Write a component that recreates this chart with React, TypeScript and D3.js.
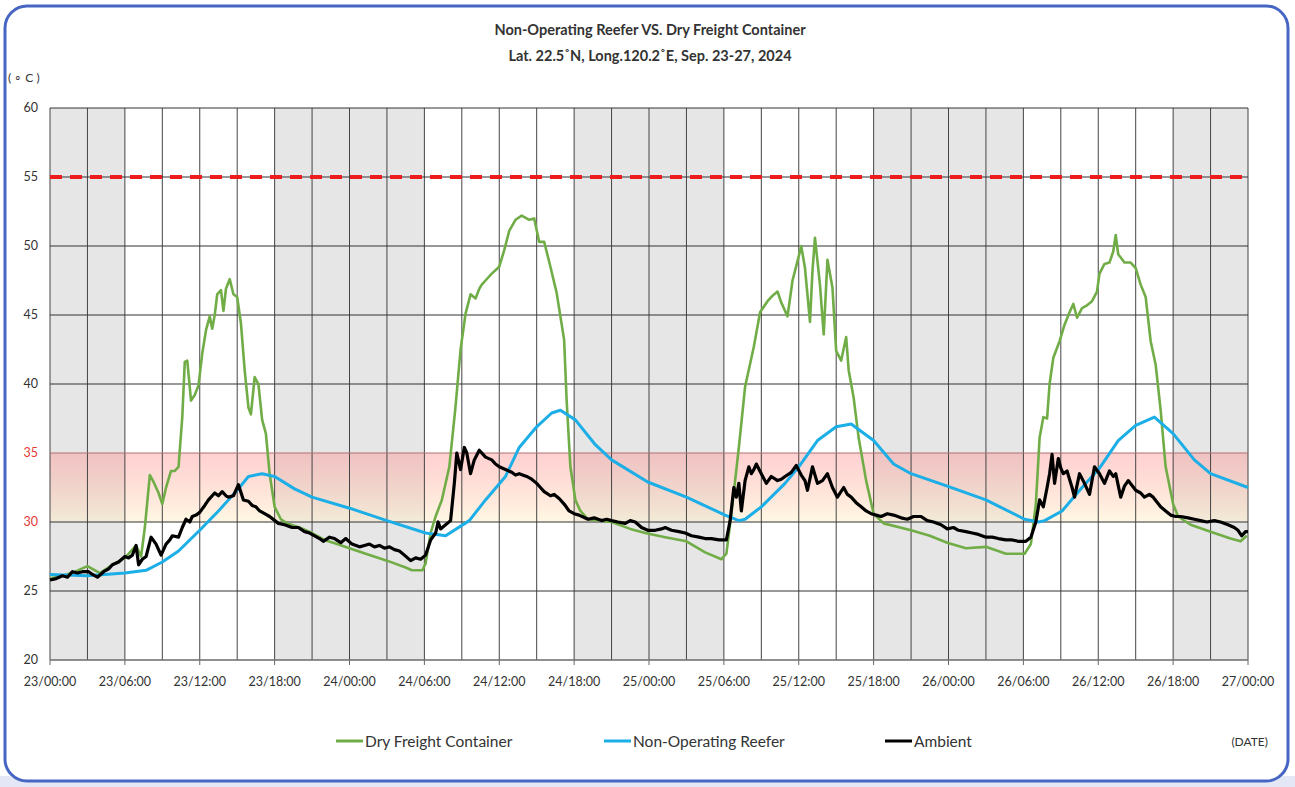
import React from "react";
import * as d3 from "d3";

// hours since 23/00:00, temperature in °C
const dryFreight: [number, number][] = [
  [0, 25.9], [1, 26.1], [2, 26.4], [3, 26.8], [4, 26.3], [5, 26.9], [6, 27.4], [6.9, 28.3], [7.3, 27.5],
  [7.6, 29.6], [8, 33.4], [8.3, 32.9], [8.7, 32.1], [9, 31.3], [9.3, 32.5], [9.7, 33.7], [10, 33.7],
  [10.3, 34], [10.6, 37.6], [10.8, 41.6], [11, 41.7], [11.3, 38.8], [11.6, 39.2], [11.9, 39.9],
  [12.2, 42.2], [12.5, 43.9], [12.8, 44.9], [13, 44], [13.2, 45], [13.4, 46.5], [13.7, 46.8],
  [13.9, 45.3], [14.1, 46.9], [14.4, 47.6], [14.7, 46.5], [15, 46.3], [15.3, 44.4], [15.6, 41],
  [15.9, 38.3], [16.1, 37.8], [16.4, 40.5], [16.7, 40], [17, 37.4], [17.3, 36.4], [17.6, 33.5],
  [18, 31.1], [18.5, 30.2], [19, 29.9], [20, 29.6], [21, 29.2], [22, 28.7], [23, 28.4], [24, 28.1],
  [25.3, 27.7], [27, 27.2], [28.5, 26.7], [29, 26.5], [29.85, 26.5], [30.1, 27], [30.5, 29.2],
  [30.9, 30.4], [31.4, 31.6], [32, 34], [32.5, 38.4], [32.9, 42.5], [33.3, 45.1], [33.7, 46.5],
  [34.1, 46.2], [34.4, 46.9], [34.6, 47.2], [34.9, 47.5], [35.4, 48], [36, 48.5], [36.4, 49.7],
  [36.8, 51.1], [37.3, 51.9], [37.8, 52.2], [38.4, 51.9], [38.8, 52], [39.2, 50.3], [39.6, 50.3],
  [40.1, 48.5], [40.6, 46.6], [41.2, 43.2], [41.4, 38.8], [41.7, 34], [42.1, 31.6], [42.5, 30.8],
  [43.1, 30.2], [45, 30], [46.5, 29.5], [47.7, 29.2], [49.3, 28.9], [51, 28.6], [52.5, 27.8],
  [53.8, 27.3], [54.2, 27.7], [54.6, 30.6], [55.2, 35.4], [55.7, 39.8], [56.4, 42.7], [56.9, 45.2],
  [57.5, 46], [57.9, 46.4], [58.3, 46.7], [58.6, 45.9], [59.1, 44.9], [59.5, 47.5], [59.9, 48.9],
  [60.2, 50], [60.5, 48.4], [60.9, 44.5], [61.1, 48.2], [61.3, 50.6], [61.7, 47.2], [62, 43.6],
  [62.3, 49], [62.7, 47], [63, 42.4], [63.4, 41.7], [63.8, 43.4], [64, 41], [64.4, 39], [64.8, 36.1],
  [65.4, 33], [66, 30.6], [66.8, 29.9], [69, 29.4], [70.5, 29], [71.9, 28.5], [73.4, 28.1], [75, 28.2],
  [76.6, 27.7], [78.1, 27.7], [78.6, 28.4], [79, 31.3], [79.3, 36.1], [79.6, 37.6], [79.9, 37.5],
  [80.1, 40], [80.4, 41.9], [80.9, 43.1], [81.3, 44.3], [81.7, 45.2], [82, 45.8], [82.3, 44.8],
  [82.7, 45.5], [83.1, 45.7], [83.5, 46], [83.9, 46.7], [84.1, 48], [84.5, 48.7], [84.9, 48.8],
  [85.2, 49.6], [85.4, 50.8], [85.6, 49.4], [86.1, 48.8], [86.6, 48.8], [87, 48.4], [87.4, 47.2],
  [87.8, 46.3], [88.2, 43.1], [88.6, 41.4], [89, 38.1], [89.4, 34], [90, 31.3], [90.4, 30.4],
  [91.4, 29.8], [93, 29.3], [94.6, 28.8], [95.4, 28.6], [95.9, 29],
];

const reefer: [number, number][] = [
  [0, 26.2], [3, 26.1], [6, 26.3], [7.7, 26.5], [9, 27.1], [10.3, 27.9], [12, 29.4], [13.5, 30.8],
  [15, 32.3], [15.9, 33.3], [17, 33.5], [18, 33.3], [19.6, 32.4], [21, 31.8], [24, 31], [27, 30.1],
  [30.1, 29.2], [31.7, 29], [33.6, 30.1], [34.9, 31.6], [36.5, 33.3], [37.6, 35.4], [39, 36.9],
  [40.2, 37.9], [40.9, 38.1], [42.1, 37.4], [43.7, 35.6], [45, 34.5], [47.9, 32.9], [51, 31.8],
  [54.1, 30.5], [55.2, 30.1], [55.7, 30.2], [57, 31.1], [58.9, 32.8], [60, 34], [61.5, 35.9],
  [63, 36.9], [64.2, 37.1], [66, 35.9], [67.6, 34.2], [69, 33.5], [71.9, 32.6], [75, 31.6],
  [78.1, 30.2], [79.2, 30], [79.7, 30.1], [81.1, 30.8], [82.7, 32.5], [84.1, 33.9], [85.6, 35.9],
  [87, 37], [88.5, 37.6], [90, 36.4], [91.7, 34.5], [93, 33.5], [96, 32.5],
];

const ambient: [number, number][] = [
  [0, 25.8], [0.5, 25.9], [1, 26.1], [1.4, 26], [1.8, 26.4], [2.2, 26.3], [2.6, 26.4], [3.1, 26.4],
  [3.4, 26.2], [3.8, 26], [4.3, 26.4], [4.7, 26.6], [5, 26.9], [5.5, 27.1], [6, 27.5], [6.3, 27.4],
  [6.6, 27.6], [6.9, 28.3], [7.1, 26.9], [7.4, 27.3], [7.7, 27.5], [8.1, 28.9], [8.5, 28.4],
  [8.9, 27.6], [9.3, 28.4], [9.6, 28.7], [9.8, 29], [10.3, 28.9], [10.6, 29.6], [10.9, 30.2],
  [11.2, 30], [11.4, 30.4], [11.7, 30.5], [12, 30.7], [12.4, 31.2], [12.7, 31.6], [13.2, 32.1],
  [13.5, 31.9], [13.8, 32.2], [14.1, 31.9], [14.3, 31.8], [14.7, 31.9], [15.1, 32.7], [15.5, 31.6],
  [15.9, 31.5], [16.2, 31.2], [16.5, 31.1], [16.8, 30.8], [17.2, 30.6], [17.6, 30.4], [18.3, 29.9],
  [18.8, 29.8], [19.4, 29.6], [19.9, 29.6], [20.4, 29.3], [20.8, 29.2], [21.2, 29], [21.6, 28.8],
  [21.9, 28.6], [22.4, 28.9], [22.8, 28.8], [23.3, 28.5], [23.7, 28.8], [24.2, 28.4], [24.8, 28.2],
  [25.2, 28.3], [25.6, 28.4], [26, 28.2], [26.4, 28.3], [26.8, 28.1], [27.2, 28.2], [27.6, 28],
  [28, 27.9], [28.4, 27.6], [28.9, 27.2], [29.3, 27.4], [29.7, 27.3], [30.1, 27.6], [30.5, 28.7],
  [30.9, 29.2], [31.1, 30], [31.3, 29.5], [31.7, 29.8], [32.1, 30.1], [32.4, 32.8], [32.6, 35],
  [32.8, 34.2], [32.9, 33.8], [33.2, 35.4], [33.4, 35], [33.7, 33.5], [34, 34.5], [34.4, 35.2],
  [34.9, 34.7], [35.4, 34.5], [35.7, 34.2], [36, 34], [36.5, 33.8], [37, 33.6], [37.3, 33.4],
  [37.6, 33.5], [38.2, 33.3], [38.6, 33.1], [39, 32.8], [39.3, 32.5], [39.6, 32.2], [40.1, 31.9],
  [40.4, 32], [40.8, 31.7], [41.2, 31.3], [41.6, 30.8], [42, 30.6], [42.4, 30.5], [43.1, 30.2],
  [43.6, 30.3], [44.2, 30.1], [44.6, 30.2], [45, 30.1], [45.5, 30], [46.1, 29.9], [46.5, 30.1],
  [46.9, 30], [47.4, 29.6], [47.9, 29.4], [48.5, 29.4], [49, 29.5], [49.3, 29.6], [49.8, 29.4],
  [50.4, 29.3], [50.9, 29.2], [51.4, 29], [52, 28.9], [52.5, 28.8], [53, 28.8], [53.6, 28.7],
  [54.2, 28.7], [54.5, 30.1], [54.8, 32.5], [55, 31.8], [55.2, 32.8], [55.4, 30.8], [55.7, 33],
  [56, 34], [56.2, 33.5], [56.4, 33.8], [56.6, 34.2], [57, 33.5], [57.4, 32.8], [57.8, 33.3],
  [58.3, 33], [58.6, 33.1], [58.9, 33.3], [59.4, 33.6], [59.8, 34.1], [60.2, 33.4], [60.5, 33],
  [60.7, 32.3], [61.1, 34], [61.5, 32.8], [61.9, 33], [62.3, 33.5], [62.7, 32.5], [63.1, 31.8],
  [63.6, 32.5], [63.9, 32], [64.2, 31.8], [64.6, 31.4], [65, 31.1], [65.4, 30.8], [65.8, 30.6],
  [66.2, 30.5], [66.6, 30.4], [67.1, 30.6], [67.6, 30.5], [68.2, 30.3], [68.7, 30.2], [69.2, 30.4],
  [69.8, 30.4], [70.3, 30.1], [70.8, 30], [71.4, 29.8], [71.9, 29.5], [72.4, 29.6], [72.8, 29.4],
  [73.4, 29.3], [73.9, 29.2], [74.4, 29.1], [75, 28.9], [75.5, 28.9], [76, 28.8], [76.6, 28.7],
  [77.1, 28.7], [77.6, 28.6], [78.2, 28.6], [78.6, 28.9], [79, 30], [79.3, 31.6], [79.6, 31.1],
  [79.9, 32.5], [80.1, 33.5], [80.3, 34.9], [80.5, 32.8], [80.8, 34.6], [81, 33.9], [81.2, 33.5],
  [81.5, 33.7], [81.9, 32.5], [82.1, 31.8], [82.5, 33.5], [82.9, 32.8], [83.3, 32], [83.7, 34],
  [84.1, 33.5], [84.5, 32.8], [84.9, 33.7], [85.2, 33.3], [85.4, 33.5], [85.8, 31.8], [86.1, 32.6],
  [86.4, 33], [87, 32.3], [87.4, 32.1], [87.7, 31.8], [88.1, 32], [88.4, 31.8], [89, 31.1],
  [89.4, 30.8], [89.8, 30.5], [90.2, 30.4], [90.6, 30.4], [91.2, 30.3], [91.7, 30.2], [92.2, 30.1],
  [92.7, 30], [93.3, 30.1], [93.8, 30], [94.4, 29.8], [94.9, 29.6], [95.2, 29.4], [95.5, 29],
  [95.8, 29.3], [96, 29.3],
];

const yTicks = [20, 25, 30, 35, 40, 45, 50, 55, 60];
const xTickLabels = [
  "23/00:00", "23/06:00", "23/12:00", "23/18:00", "24/00:00", "24/06:00", "24/12:00", "24/18:00",
  "25/00:00", "25/06:00", "25/12:00", "25/18:00", "26/00:00", "26/06:00", "26/12:00", "26/18:00",
  "27/00:00",
];
// night hours (18:00 - 06:00), shaded grey
const nightSpans: [number, number][] = [[0, 6], [18, 30], [42, 54], [66, 78], [90, 96]];
const limitTemp = 55;
const comfortBand: [number, number] = [30, 35];

const series = [
  { name: "Dry Freight Container", data: dryFreight, color: "#70ad47", width: 2.6 },
  { name: "Non-Operating Reefer", data: reefer, color: "#1caee6", width: 3 },
  { name: "Ambient", data: ambient, color: "#000000", width: 3.2 },
];

const W = 1295;
const H = 787;
const font = "Lato, 'Open Sans', sans-serif";

export default function App() {
  const x = d3.scaleLinear().domain([0, 96]).range([50, 1248]);
  const y = d3.scaleLinear().domain([20, 60]).range([660, 108]);
  const line = d3
    .line<[number, number]>()
    .x(d => x(d[0]))
    .y(d => y(d[1]));

  const gridHours = d3.range(0, 97, 3);

  return (
    <svg width={W} height={H} style={{ position: "absolute", left: 0, top: 0, fontFamily: font }}>
      <defs>
        <linearGradient id="band" x1="0" y1="0" x2="0" y2="1">
          <stop offset="0%" stopColor="#ff8c8c" stopOpacity={0.4} />
          <stop offset="100%" stopColor="#fff0c8" stopOpacity={0.5} />
        </linearGradient>
      </defs>
      <rect x={0} y={0} width={W} height={H} fill="#ffffff" />
      <rect x={0} y={776} width={W} height={11} fill="#e4e8f6" />
      <rect x={5} y={6} width={1283} height={775} rx={22} fill="#ffffff" stroke="#4766c4" strokeWidth={3} />

      {/* title */}
      <text x={650} y={35} textAnchor="middle" fontSize={14.5} fontWeight="bold" fill="#333">
        Non-Operating Reefer VS. Dry Freight Container
      </text>
      <text x={650} y={61} textAnchor="middle" fontSize={14.5} fontWeight="bold" fill="#333">
        Lat. 22.5˚N, Long.120.2˚E, Sep. 23-27, 2024
      </text>
      <text x={8} y={82} fontSize={12} fill="#333">( ∘ C )</text>

      {/* day / night columns */}
      {nightSpans.map(([a, b], i) => (
        <rect key={i} x={x(a)} y={y(60)} width={x(b) - x(a)} height={y(20) - y(60)} fill="#e6e6e6" />
      ))}

      {/* 30-35 band */}
      <rect
        x={x(0)}
        y={y(comfortBand[1])}
        width={x(96) - x(0)}
        height={y(comfortBand[0]) - y(comfortBand[1])}
        fill="url(#band)"
      />

      {/* grid */}
      {gridHours.map(h => (
        <line key={h} x1={x(h)} x2={x(h)} y1={y(60)} y2={y(20)} stroke="#444" strokeWidth={1} />
      ))}
      {yTicks.map(t => (
        <line key={t} x1={x(0)} x2={x(96)} y1={y(t)} y2={y(t)} stroke={t === 35 ? "#b07070" : "#333"} strokeWidth={1} />
      ))}
      {xTickLabels.map((_, i) => (
        <line key={i} x1={x(i * 6)} x2={x(i * 6)} y1={y(20)} y2={y(20) + 5} stroke="#666" />
      ))}
      <line x1={x(0)} x2={x(96)} y1={y(20)} y2={y(20)} stroke="#888" strokeWidth={1.2} />

      {/* limit line */}
      <line
        x1={x(0)}
        x2={x(96)}
        y1={y(limitTemp)}
        y2={y(limitTemp)}
        stroke="#ee1c1c"
        strokeWidth={4}
        strokeDasharray="12,8"
      />

      {/* axis labels */}
      {yTicks.map(t => (
        <text
          key={t}
          x={38}
          y={y(t) + 4}
          textAnchor="end"
          fontSize={12.5}
          fill={t === 30 || t === 35 ? "#e53935" : "#333"}
        >
          {t}
        </text>
      ))}
      {xTickLabels.map((l, i) => (
        <text key={l} x={x(i * 6)} y={686} textAnchor="middle" fontSize={12.5} fill="#333">
          {l}
        </text>
      ))}

      {/* series */}
      {series.map(s => (
        <path
          key={s.name}
          d={line(s.data) || ""}
          fill="none"
          stroke={s.color}
          strokeWidth={s.width}
          strokeLinejoin="round"
        />
      ))}

      {/* legend */}
      {[
        { s: series[0], lx: 336 },
        { s: series[1], lx: 604 },
        { s: series[2], lx: 885 },
      ].map(({ s, lx }) => (
        <g key={s.name}>
          <line x1={lx} x2={lx + 27} y1={741} y2={741} stroke={s.color} strokeWidth={3} />
          <text x={lx + 29} y={746.5} fontSize={15.5} fill="#333">
            {s.name}
          </text>
        </g>
      ))}
      <text x={1268} y={746} textAnchor="end" fontSize={12} fill="#333">(DATE)</text>
    </svg>
  );
}
